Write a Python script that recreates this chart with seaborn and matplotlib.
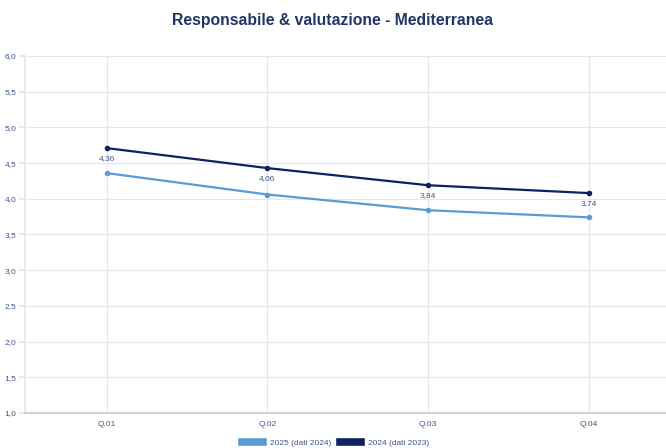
import matplotlib
matplotlib.use("Agg")
import matplotlib.pyplot as plt
import matplotlib.ticker as mticker
from matplotlib.patches import Patch
from matplotlib import font_manager
import seaborn as sns
import pandas as pd

categories = ["Q.01", "Q.02", "Q.03", "Q.04"]
series_2025 = [4.36, 4.06, 3.84, 3.74]
series_2024 = [4.71, 4.43, 4.19, 4.08]
label_2025 = "2025 (dati 2024)"
label_2024 = "2024 (dati 2023)"
title = "Responsabile & valutazione - Mediterranea"

c_light = "#5b9bd5"
c_dark = "#0d2361"
navy_text = "#1f3566"
tick_col = "#42548a"

sns.set_theme(style="white")
plt.rcParams["font.family"] = ["Liberation Sans", "DejaVu Sans"]
names = {f.name for f in font_manager.fontManager.ttflist}
narrow = "Liberation Sans Narrow" if "Liberation Sans Narrow" in names else None
title_size = 13 if narrow else 11.3
title_family = [narrow or "Liberation Sans", "DejaVu Sans"]

df = pd.DataFrame({
    "x": list(range(len(categories))) * 2,
    "val": series_2025 + series_2024,
    "serie": [label_2025] * 4 + [label_2024] * 4,
})

fig = plt.figure(figsize=(6.66, 4.48), dpi=100)
ax = fig.add_axes([25 / 666, 1 - 413 / 448, 641 / 666, 357 / 448])

sns.lineplot(data=df, x="x", y="val", hue="serie",
             palette={label_2025: c_light, label_2024: c_dark},
             marker="o", markersize=4, markeredgewidth=0, linewidth=1.6,
             legend=False, ax=ax)

for i, v in enumerate(series_2025):
    ax.annotate(f"{v:.2f}".replace(".", ","), (i, series_2024[i]),
                xytext=(0, -7.3), textcoords="offset points", ha="center",
                va="center", fontsize=6, color=tick_col)

ax.set_xlim(-0.508, 3.48)
ax.set_ylim(1.0, 6.0)
ax.set_yticks([1.0 + 0.5 * k for k in range(11)])
ax.yaxis.set_major_formatter(mticker.FuncFormatter(lambda v, p: f"{v:.1f}".replace(".", ",")))
ax.set_xticks(range(len(categories)))
ax.set_xticklabels(categories)
ax.set_xlabel("")
ax.set_ylabel("")
ax.grid(True, color="#e6e6e6", linewidth=0.8)
ax.set_axisbelow(True)
for s in ["top", "right"]:
    ax.spines[s].set_visible(False)
ax.spines["left"].set_color("#e6e6e6")
ax.spines["bottom"].set_color("#cccccc")
ax.tick_params(axis="y", length=4, color="#e6e6e6", labelsize=6, labelcolor=tick_col, pad=2, left=True)
ax.tick_params(axis="x", length=0, labelsize=6, labelcolor=tick_col, pad=6)

fig.text(0.5, 1 - 20 / 448, title, ha="center", va="center", fontsize=title_size,
         fontweight="bold", color=navy_text, family=title_family)

handles = [Patch(facecolor=c_light, label=label_2025), Patch(facecolor=c_dark, label=label_2024)]
fig.legend(handles=handles, loc="center", bbox_to_anchor=(0.5, 1 - 442 / 448), ncol=2,
           frameon=False, fontsize=6, handlelength=3.6, handleheight=1.2,
           handletextpad=0.3, columnspacing=0.5, labelcolor=tick_col,
           borderpad=0, borderaxespad=0)

fig.savefig("out.png", dpi=100)
